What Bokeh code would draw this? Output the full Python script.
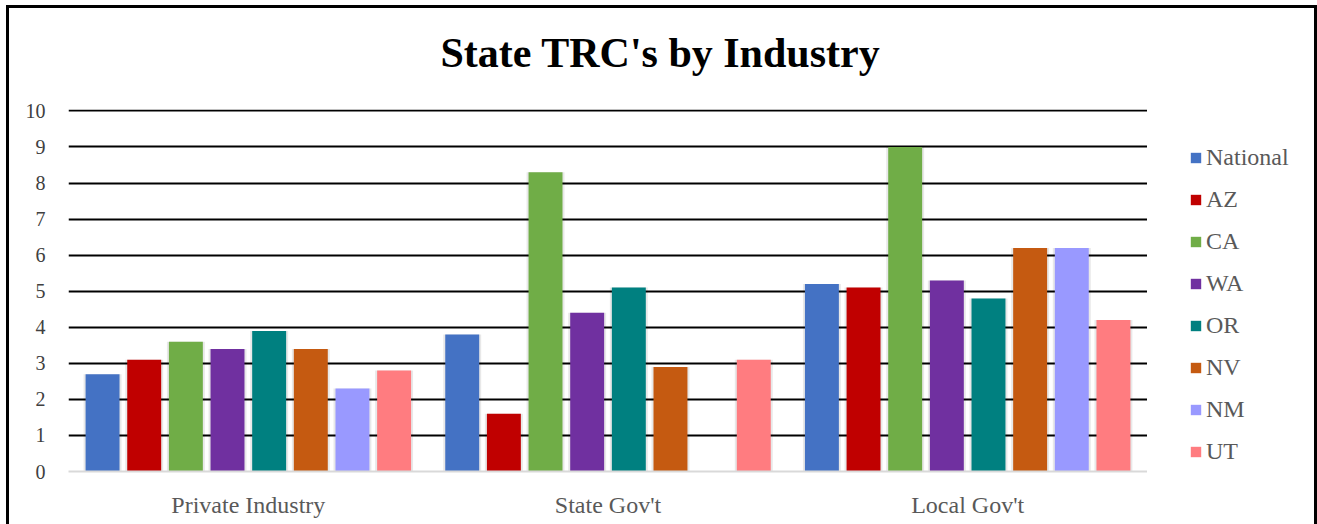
from bokeh.plotting import figure
from bokeh.layouts import row
from bokeh.models import FactorRange, Range1d, Legend, LegendItem, Title, FixedTicker, ColumnDataSource
from bokeh.transform import dodge
from bokeh.embed import file_html
from bokeh.resources import INLINE

industries = ["Private Industry", "State Gov't", "Local Gov't"]
states = ["National", "AZ", "CA", "WA", "OR", "NV", "NM", "UT"]
national = [2.7, 3.8, 5.2]
az = [3.1, 1.6, 5.1]
ca = [3.6, 8.3, 9.0]
wa = [3.4, 4.4, 5.3]
or_ = [3.9, 5.1, 4.8]
nv = [3.4, 2.9, 6.2]
nm = [2.3, float("nan"), 6.2]
ut = [2.8, 3.1, 4.2]
colors = ["#4472C4", "#C00000", "#70AD47", "#7030A0", "#008080", "#C55A11", "#9999FF", "#FF7C80"]
y_ticks = list(range(0, 11))

series = [national, az, ca, wa, or_, nv, nm, ut]
data = {"industry": industries}
for s, vals in zip(states, series):
    data[s] = vals
source = ColumnDataSource(data)

FONT = "Liberation Serif"

# ---------------- main chart ----------------
p = figure(
    x_range=FactorRange(*industries),
    y_range=Range1d(0, 10.04),
    width=1138, height=516,
    output_backend="svg", toolbar_location=None,
    min_border_left=59, min_border_right=0, min_border_top=101, min_border_bottom=53,
)
p.outline_line_color = None
p.background_fill_color = "white"
p.border_fill_color = "white"

# spacer between frame and title, then the title itself
p.add_layout(Title(text=" ", text_font_size="10px", standoff=21), "above")
p.add_layout(Title(text="State TRC's by Industry", text_font=FONT, text_font_size="42px",
                   text_font_style="bold", text_color="black", align="left", offset=372,
                   vertical_align="bottom", standoff=0), "above")

step = 0.1158
bw = 0.0944
shadow_w = bw + 4 / 360
for i, (s, c) in enumerate(zip(states, colors)):
    off = (i - 3.5) * step
    p.vbar(x=dodge("industry", off, range=p.x_range), top=s, width=shadow_w, source=source,
           fill_color="black", fill_alpha=0.09, line_color=None)
for i, (s, c) in enumerate(zip(states, colors)):
    off = (i - 3.5) * step
    p.vbar(x=dodge("industry", off, range=p.x_range), top=s, width=bw, source=source,
           fill_color=c, line_color=None)

# axes
p.yaxis.ticker = FixedTicker(ticks=y_ticks)
p.yaxis.axis_line_color = None
p.yaxis.major_tick_line_color = None
p.yaxis.minor_tick_line_color = None
p.yaxis.major_label_text_font = FONT
p.yaxis.major_label_text_font_size = "20px"
p.yaxis.major_label_text_color = "#404040"
p.yaxis.major_label_standoff = 17

p.xaxis.axis_line_color = "#D9D9D9"
p.xaxis.axis_line_width = 2
p.xaxis.major_tick_line_color = None
p.xaxis.minor_tick_line_color = None
p.xaxis.major_label_text_font = FONT
p.xaxis.major_label_text_font_size = "24px"
p.xaxis.major_label_text_color = "#595959"
p.xaxis.major_label_standoff = 14

p.xgrid.grid_line_color = None
p.ygrid.ticker = FixedTicker(ticks=y_ticks[1:])
p.ygrid.grid_line_color = "black"
p.ygrid.grid_line_width = 2

# ---------------- legend panel ----------------
pl = figure(width=167, height=516, x_range=Range1d(0, 1), y_range=Range1d(0, 1),
            x_axis_type=None, y_axis_type=None, output_backend="svg", toolbar_location=None,
            min_border=0)
pl.outline_line_color = None
pl.xgrid.visible = False
pl.ygrid.visible = False
pl.background_fill_color = "white"
pl.border_fill_color = "white"

items = []
for s, c in zip(states, colors):
    # zero-height, out-of-view bar used only as the legend swatch
    r = pl.vbar(x=[-1], top=[0], bottom=[0], width=0.1, fill_color=c, line_color=None)
    items.append(LegendItem(label=s, renderers=[r]))

legend = Legend(items=items, location=(42, 6), orientation="vertical")
legend.label_text_font = FONT
legend.label_text_font_size = "24px"
legend.label_text_color = "#595959"
legend.glyph_width = 13
legend.glyph_height = 13
legend.label_standoff = 4
legend.label_height = 26
legend.spacing = 15
legend.padding = 0
legend.margin = 0
legend.border_line_color = None
legend.background_fill_alpha = 0
pl.add_layout(legend)

layout = row(p, pl)
layout.styles = {"margin-left": "6px", "margin-top": "5px",
                 "border-left": "3px solid black", "border-top": "3px solid black",
                 "border-right": "3px solid black"}

open("out.html", "w").write(file_html(layout, INLINE))
